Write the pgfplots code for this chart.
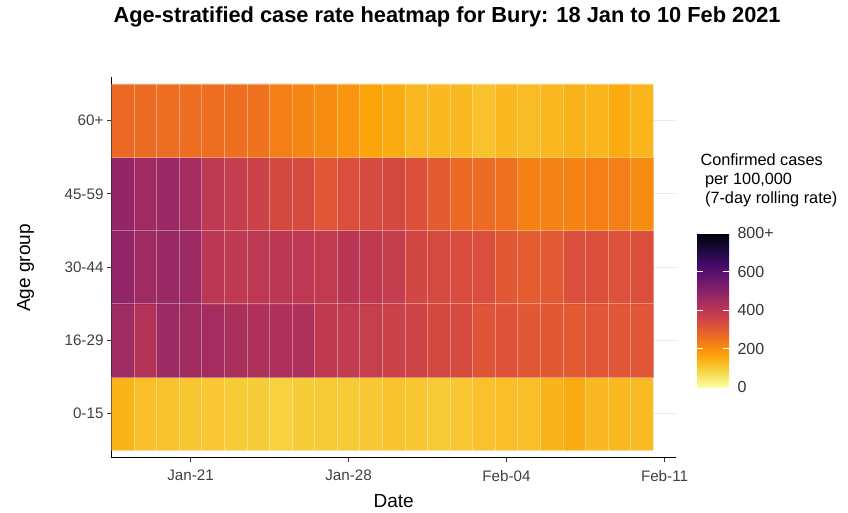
\documentclass[border=0pt]{standalone}
\usepackage{fontspec}
\setmainfont{Liberation Sans}
\usepackage{pgfplots}
\usepackage{pgfplotstable}
\pgfplotsset{compat=1.18}
\pgfplotsset{colormap={infernor}{rgb255(0cm)=(252,255,164); rgb255(1cm)=(246,215,70); rgb255(2cm)=(252,165,10); rgb255(3cm)=(243,120,25); rgb255(4cm)=(221,81,58); rgb255(5cm)=(188,55,84); rgb255(6cm)=(147,38,103); rgb255(7cm)=(106,23,110); rgb255(8cm)=(66,10,104); rgb255(9cm)=(22,11,57); rgb255(10cm)=(0,0,4)}}
\definecolor{gridgrey}{RGB}{235,235,230}
\pgfplotstableread{
x y c
0.5 0.5 140
1.5 0.5 118
2.5 0.5 115
3.5 0.5 108
4.5 0.5 105
5.5 0.5 100
6.5 0.5 97
7.5 0.5 90
8.5 0.5 97
9.5 0.5 100
10.5 0.5 100
11.5 0.5 105
12.5 0.5 112
13.5 0.5 108
14.5 0.5 100
15.5 0.5 105
16.5 0.5 115
17.5 0.5 120
18.5 0.5 118
19.5 0.5 138
20.5 0.5 150
21.5 0.5 128
22.5 0.5 130
23.5 0.5 125
0.5 1.5 458
1.5 1.5 415
2.5 1.5 462
3.5 1.5 452
4.5 1.5 448
5.5 1.5 435
6.5 1.5 430
7.5 1.5 428
8.5 1.5 428
9.5 1.5 392
10.5 1.5 385
11.5 1.5 375
12.5 1.5 365
13.5 1.5 360
14.5 1.5 345
15.5 1.5 340
16.5 1.5 312
17.5 1.5 318
18.5 1.5 305
19.5 1.5 305
20.5 1.5 300
21.5 1.5 310
22.5 1.5 310
23.5 1.5 310
0.5 2.5 485
1.5 2.5 458
2.5 2.5 468
3.5 2.5 462
4.5 2.5 400
5.5 2.5 395
6.5 2.5 398
7.5 2.5 402
8.5 2.5 397
9.5 2.5 388
10.5 2.5 405
11.5 2.5 392
12.5 2.5 378
13.5 2.5 350
14.5 2.5 342
15.5 2.5 335
16.5 2.5 328
17.5 2.5 305
18.5 2.5 295
19.5 2.5 303
20.5 2.5 326
21.5 2.5 323
22.5 2.5 320
23.5 2.5 326
0.5 3.5 480
1.5 3.5 455
2.5 3.5 468
3.5 3.5 445
4.5 3.5 395
5.5 3.5 380
6.5 3.5 365
7.5 3.5 345
8.5 3.5 340
9.5 3.5 310
10.5 3.5 330
11.5 3.5 340
12.5 3.5 345
13.5 3.5 322
14.5 3.5 300
15.5 3.5 270
16.5 3.5 265
17.5 3.5 255
18.5 3.5 225
19.5 3.5 222
20.5 3.5 220
21.5 3.5 228
22.5 3.5 230
23.5 3.5 205
0.5 4.5 270
1.5 4.5 265
2.5 4.5 262
3.5 4.5 260
4.5 4.5 262
5.5 4.5 258
6.5 4.5 252
7.5 4.5 228
8.5 4.5 215
9.5 4.5 205
10.5 4.5 188
11.5 4.5 160
12.5 4.5 150
13.5 4.5 132
14.5 4.5 130
15.5 4.5 128
16.5 4.5 115
17.5 4.5 130
18.5 4.5 123
19.5 4.5 132
20.5 4.5 140
21.5 4.5 135
22.5 4.5 152
23.5 4.5 135
}\ratedata
\begin{document}
\begin{tikzpicture}[x=1pt,y=1pt]
\useasboundingbox (0,0) rectangle (848,512);
\begin{axis}[
  at={(111.5pt,54.3pt)}, anchor=south west, scale only axis,
  width=564.3pt, height=381pt,
  xmin=0, xmax=25, ymin=-0.1, ymax=5.1,
  axis x line*=bottom, axis y line*=left,
  axis line style={black, line width=1.1pt, -},
  x axis line style={-}, y axis line style={-},
  xtick={3.5,10.5,17.5,24.5}, xticklabels={Jan-21,Jan-28,Feb-04,Feb-11},
  ytick={0.5,1.5,2.5,3.5,4.5}, yticklabels={0-15,16-29,30-44,45-59,60+},
  tick align=outside, major tick length=4.5pt,
  tick style={black!80, line width=1pt},
  ticklabel style={font=\fontsize{15.2}{18}\selectfont, text=black!75},
  xticklabel style={yshift=-4.5pt},
  ymajorgrids, grid style={line width=1pt, color=gridgrey},
  colormap name=infernor, point meta min=0, point meta max=800,
  colorbar,
  colorbar/width=32pt,
  colorbar style={
    at={(parent axis.south east)}, anchor=south west, xshift=12.7pt, yshift=70.7pt,
    scale only axis, width=32pt, height=154pt,
    xmin=0, xmax=1, ymin=0, ymax=800,
    enlargelimits=false,
    ytick={0,200,400,600,800}, yticklabels={0,200,400,600,800+},
    axis line style={draw=none},
    yticklabel pos=right,
    major tick length=0pt,
    yticklabel style={font=\fontsize{16}{18}\selectfont, text=black!80, xshift=5pt},
  },
  cellborder/.style={draw=white, opacity=0.35, line width=0.7pt, forget plot, mark=none},
]
\addplot[matrix plot*, mesh/cols=24, mesh/rows=5, point meta=explicit] table[x=x, y=y, meta=c]{\ratedata};
\pgfplotsinvokeforeach{0,...,24}{\addplot[cellborder] coordinates {(#1,0) (#1,5)};}
\pgfplotsinvokeforeach{0,...,5}{\addplot[cellborder] coordinates {(0,#1) (24,#1)};}
\end{axis}
% white tick marks of the colour bar (colour bar spans y = 125 to 279)
\draw[white, line width=0.9pt]
  (697,163.5) -- (703.4,163.5) (722.6,163.5) -- (729,163.5)
  (697,202) -- (703.4,202) (722.6,202) -- (729,202)
  (697,240.5) -- (703.4,240.5) (722.6,240.5) -- (729,240.5);
\node[anchor=base west, font=\bfseries\fontsize{21.8}{24}\selectfont] at (110,489.3) {Age-stratified case rate heatmap for Bury: 18 Jan to 10 Feb 2021};
\node[anchor=base, font=\fontsize{19}{22}\selectfont] at (393.6,5) {Date};
\node[anchor=base, rotate=90, font=\fontsize{19}{22}\selectfont] at (30,244) {Age group};
\node[anchor=base west, font=\fontsize{16.3}{19}\selectfont] at (697,346) {Confirmed cases};
\node[anchor=base west, font=\fontsize{16.3}{19}\selectfont] at (697,327) {\ per 100,000};
\node[anchor=base west, font=\fontsize{16.3}{19}\selectfont] at (697,308) {\ (7-day rolling rate)};
\end{tikzpicture}
\end{document}
